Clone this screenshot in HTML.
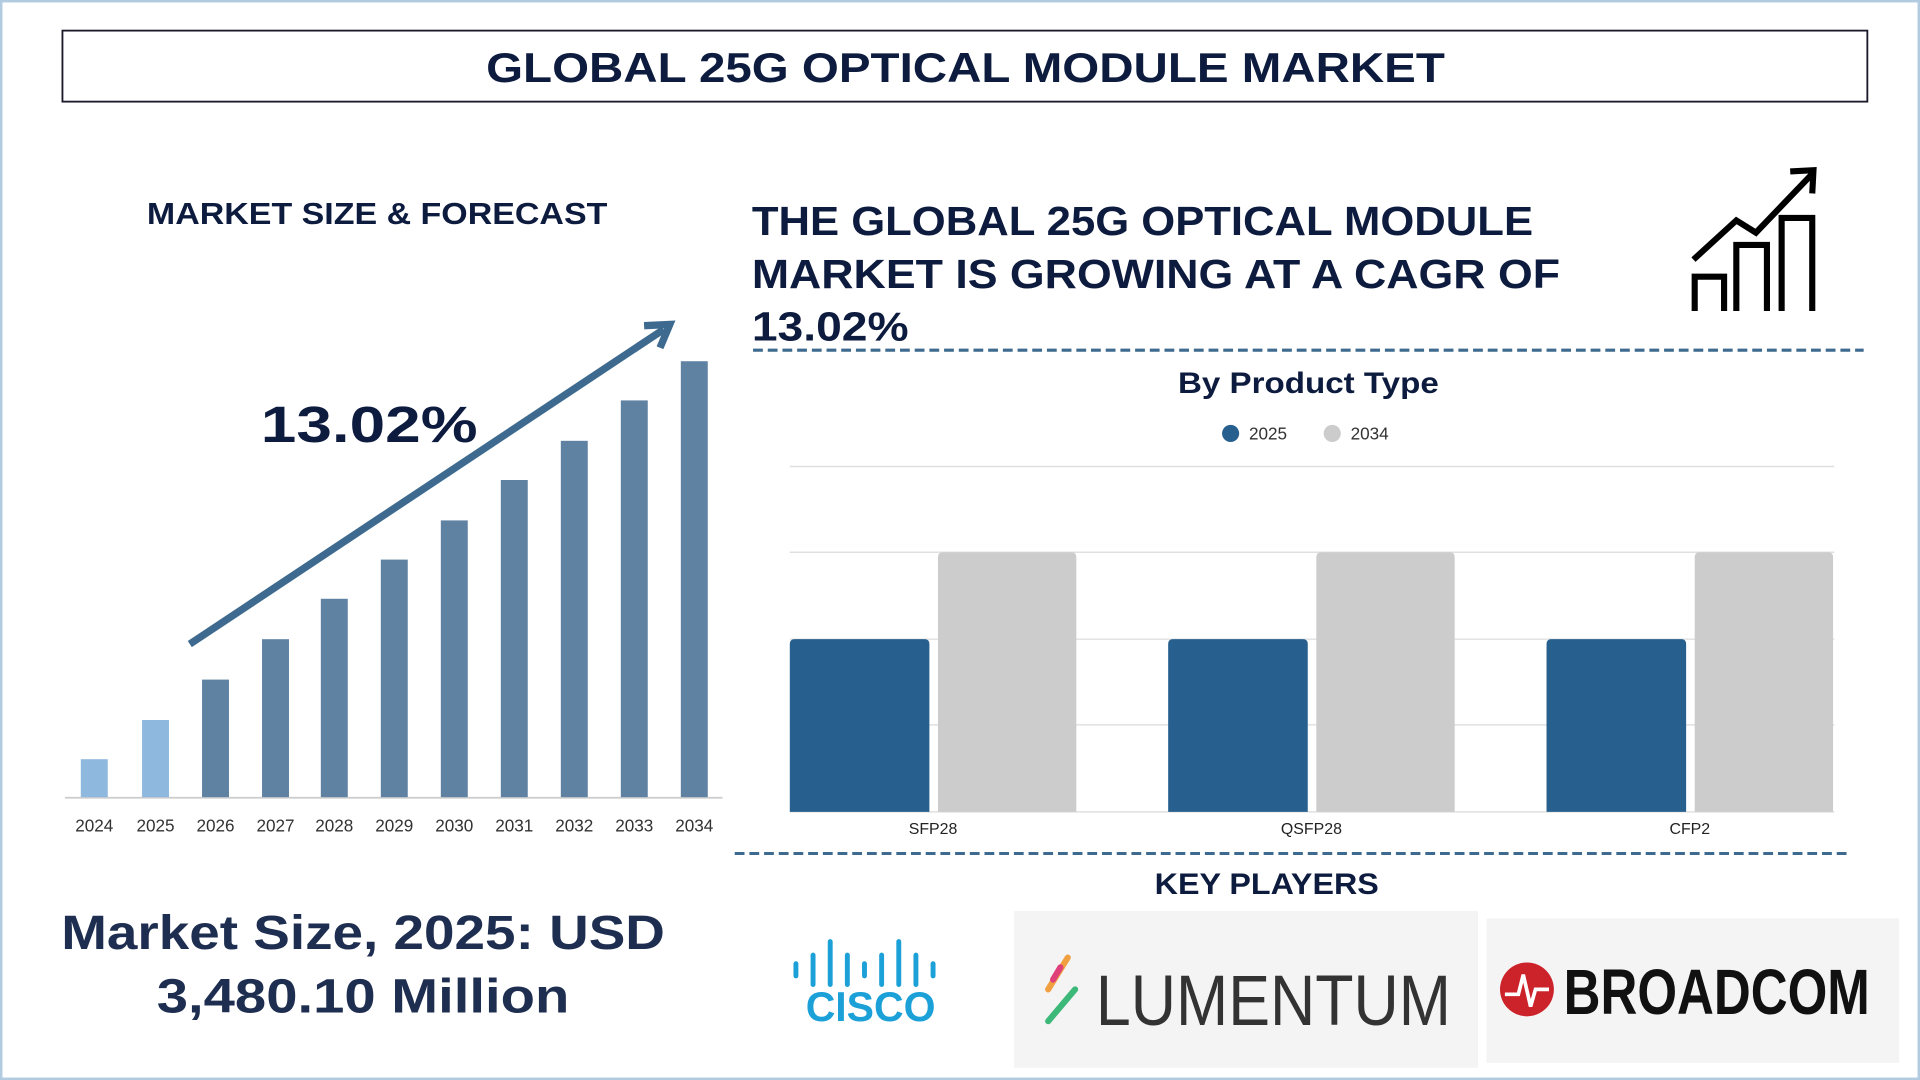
<!DOCTYPE html>
<html><head><meta charset="utf-8"><style>
html,body{margin:0;padding:0;background:#fff;}
svg{display:block;}
text{font-family:"Liberation Sans",Arial,sans-serif;}
</style></head><body>
<svg width="1920" height="1080" viewBox="0 0 1568 882" xmlns="http://www.w3.org/2000/svg">
<rect x="0" y="0" width="1568" height="882" fill="#fff"/>
<rect x="1" y="1" width="1566" height="880" fill="none" stroke="#b3cbe0" stroke-width="2"/>
<rect x="51" y="25" width="1474" height="58" fill="#fff" stroke="#1a1a2a" stroke-width="1.5"/>
<text x="397" y="67" font-size="34" font-weight="bold" fill="#0d1b3e" textLength="783" lengthAdjust="spacingAndGlyphs">GLOBAL 25G OPTICAL MODULE MARKET</text>

<text x="120" y="183" font-size="25" font-weight="bold" fill="#0d1b3e" textLength="376" lengthAdjust="spacingAndGlyphs">MARKET SIZE &amp; FORECAST</text>

<line x1="53" y1="651.5" x2="590" y2="651.5" stroke="#ccc" stroke-width="1.5"/>
<g fill="#5f82a3">
<rect x="66" y="620" width="22" height="31" fill="#8fb8df"/>
<rect x="116" y="588" width="22" height="63" fill="#8fb8df"/>
<rect x="165" y="555" width="22" height="96"/>
<rect x="214" y="522" width="22" height="129"/>
<rect x="262" y="489" width="22" height="162"/>
<rect x="311" y="457" width="22" height="194"/>
<rect x="360" y="425" width="22" height="226"/>
<rect x="409" y="392" width="22" height="259"/>
<rect x="458" y="360" width="22" height="291"/>
<rect x="507" y="327" width="22" height="324"/>
<rect x="556" y="295" width="22" height="356"/>
</g>
<g font-size="14" fill="#333" text-anchor="middle">
<text x="77" y="679">2024</text><text x="127" y="679">2025</text><text x="176" y="679">2026</text><text x="225" y="679">2027</text><text x="273" y="679">2028</text><text x="322" y="679">2029</text><text x="371" y="679">2030</text><text x="420" y="679">2031</text><text x="469" y="679">2032</text><text x="518" y="679">2033</text><text x="567" y="679">2034</text>
</g>
<line x1="155" y1="526" x2="542" y2="269" stroke="#3d6a8e" stroke-width="6"/>
<polyline points="526,266 547,265 539,284" fill="none" stroke="#3d6a8e" stroke-width="6" stroke-linejoin="miter"/>
<text x="213" y="361" font-size="42" font-weight="bold" fill="#0d1b3e" textLength="177" lengthAdjust="spacingAndGlyphs">13.02%</text>

<text x="50" y="775" font-size="39" font-weight="bold" fill="#1e2e50" textLength="493" lengthAdjust="spacingAndGlyphs">Market Size, 2025: USD</text>
<text x="128" y="827" font-size="39" font-weight="bold" fill="#1e2e50" textLength="337" lengthAdjust="spacingAndGlyphs">3,480.10 Million</text>

<g font-size="33" font-weight="bold" fill="#0d1b3e">
<text x="614" y="192" textLength="638" lengthAdjust="spacingAndGlyphs">THE GLOBAL 25G OPTICAL MODULE</text>
<text x="614" y="235" textLength="660" lengthAdjust="spacingAndGlyphs">MARKET IS GROWING AT A CAGR OF</text>
<text x="614" y="278" textLength="128" lengthAdjust="spacingAndGlyphs">13.02%</text>
</g>
<g fill="none" stroke="#000" stroke-width="5">
<polyline points="1384,254 1384,226 1408,226 1408,254"/>
<polyline points="1418,254 1418,200 1443,200 1443,254"/>
<polyline points="1455,254 1455,178 1480,178 1480,254"/>
<polyline points="1383,212 1418,180 1434,190 1480,142"/>
<polyline points="1462,140 1481,139 1480,158"/>
</g>
<line x1="615" y1="286" x2="1522" y2="286" stroke="#3d6a8e" stroke-width="2.5" stroke-dasharray="8 4"/>

<text x="962" y="321" font-size="24" font-weight="bold" fill="#0d1b3e" textLength="213" lengthAdjust="spacingAndGlyphs">By Product Type</text>
<circle cx="1005" cy="354" r="7" fill="#27608e"/><text x="1020" y="359" font-size="14" fill="#333">2025</text>
<circle cx="1088" cy="354" r="7" fill="#ccc"/><text x="1103" y="359" font-size="14" fill="#333">2034</text>
<g stroke="#e0e0e0" stroke-width="1.2">
<line x1="645" y1="381" x2="1498" y2="381"/><line x1="645" y1="451" x2="1498" y2="451"/><line x1="645" y1="522" x2="1498" y2="522"/><line x1="645" y1="592" x2="1498" y2="592"/><line x1="645" y1="663" x2="1498" y2="663"/>
</g>
<g fill="#27608e">
<path d="M645,663 V526 q0,-4 4,-4 H755 q4,0 4,4 V663Z"/>
<path d="M954,663 V526 q0,-4 4,-4 H1064 q4,0 4,4 V663Z"/>
<path d="M1263,663 V526 q0,-4 4,-4 H1373 q4,0 4,4 V663Z"/>
</g>
<g fill="#cccccc">
<path d="M766,663 V455 q0,-4 4,-4 H875 q4,0 4,4 V663Z"/>
<path d="M1075,663 V455 q0,-4 4,-4 H1184 q4,0 4,4 V663Z"/>
<path d="M1384,663 V455 q0,-4 4,-4 H1493 q4,0 4,4 V663Z"/>
</g>
<g font-size="13" fill="#222" text-anchor="middle">
<text x="762" y="681">SFP28</text><text x="1071" y="681">QSFP28</text><text x="1380" y="681">CFP2</text>
</g>
<line x1="600" y1="697" x2="1508" y2="697" stroke="#3d6a8e" stroke-width="2.5" stroke-dasharray="8 4"/>
<text x="943" y="730" font-size="24" font-weight="bold" fill="#0d1b3e" textLength="183" lengthAdjust="spacingAndGlyphs">KEY PLAYERS</text>

<g stroke="#1ba0d7" stroke-width="4" stroke-linecap="round">
<line x1="650" y1="787" x2="650" y2="797"/><line x1="664" y1="780" x2="664" y2="804"/><line x1="678" y1="769" x2="678" y2="804"/>
<line x1="692" y1="780" x2="692" y2="804"/><line x1="706" y1="787" x2="706" y2="797"/><line x1="720" y1="780" x2="720" y2="804"/>
<line x1="734" y1="769" x2="734" y2="804"/><line x1="748" y1="780" x2="748" y2="804"/><line x1="762" y1="787" x2="762" y2="797"/>
</g>
<text x="658" y="834" font-size="34" font-weight="bold" fill="#1ba0d7" textLength="106" lengthAdjust="spacingAndGlyphs">CISCO</text>

<rect x="828" y="744" width="379" height="128" fill="#f4f4f4"/>
<line x1="872" y1="782" x2="856" y2="808" stroke="#f0a040" stroke-width="5" stroke-linecap="round"/>
<line x1="878" y1="808" x2="856" y2="834" stroke="#3cb878" stroke-width="5" stroke-linecap="round"/>
<line x1="866" y1="790" x2="860" y2="800" stroke="#e0407a" stroke-width="5" stroke-linecap="round"/>
<text x="895" y="837" font-size="58" fill="#333" textLength="290" lengthAdjust="spacingAndGlyphs">LUMENTUM</text>

<rect x="1214" y="750" width="337" height="118" fill="#f4f4f4"/>
<circle cx="1247" cy="808" r="22" fill="#cc2229"/>
<polyline points="1229,812 1240,812 1244,796 1250,822 1254,808 1265,808" fill="none" stroke="#fff" stroke-width="3"/>
<text x="1277" y="828" font-size="52" font-weight="bold" fill="#111" textLength="250" lengthAdjust="spacingAndGlyphs">BROADCOM</text>
</svg>
</body></html>
